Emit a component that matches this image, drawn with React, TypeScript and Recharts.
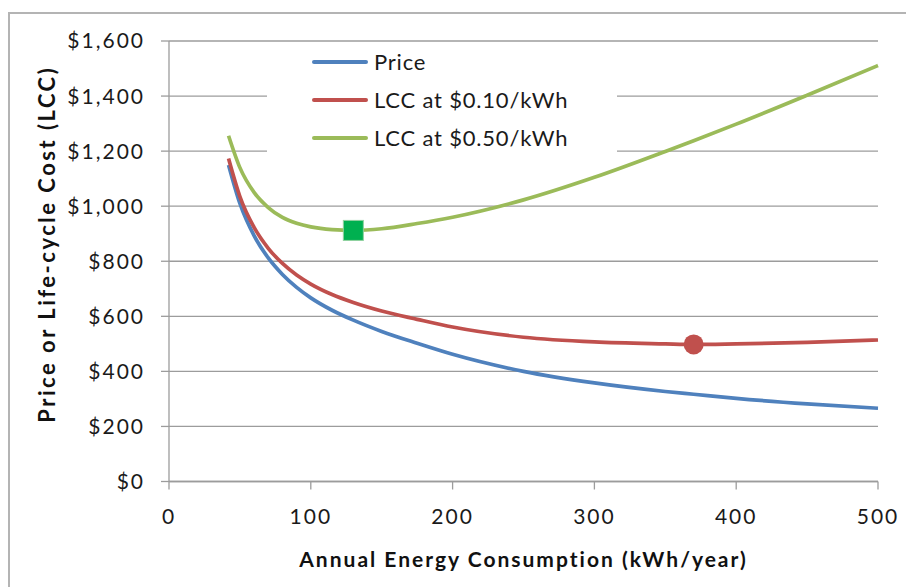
import React from 'react';
import { ComposedChart, Line, XAxis, YAxis, CartesianGrid, Legend, ReferenceDot } from 'recharts';

const consumption = [42, 50, 60, 70, 80, 90, 100, 115, 130, 150, 175, 200, 250, 300, 350, 370, 400, 450, 500];
const priceValues = [1150, 1010, 893, 812, 752, 705, 667, 622, 586, 545, 502, 462, 400, 358, 327, 317, 302, 282, 266];
const lcc10Values = [1173, 1035, 923, 847, 792, 750, 717, 679, 650, 619, 589, 561, 524, 507, 500, 498, 500, 505, 514];
const lcc50Values = [1256, 1140, 1050, 995, 959, 938, 925, 915, 912, 918, 937, 960, 1023, 1105, 1199, 1238, 1298, 1403, 1511];

const xTicks = [0, 100, 200, 300, 400, 500];
const yTicks = [0, 200, 400, 600, 800, 1000, 1200, 1400, 1600];

const minLcc10 = { x: 370, y: 498 };
const minLcc50 = { x: 130, y: 912 };

const seriesNames = ['Price', 'LCC at $0.10/kWh', 'LCC at $0.50/kWh'];

const data = consumption.map((x, i) => ({
  x,
  price: priceValues[i],
  lcc10: lcc10Values[i],
  lcc50: lcc50Values[i],
}));

const GRID = '#9c9c9c';
const FONT = 'Lato, "Open Sans", sans-serif';

const LegendBox = (props: any) => {
  const all = props.payload || [];
  const payload = seriesNames
    .map((n) => all.find((p: any) => p.value === n))
    .filter(Boolean);
  return (
    <div style={{ width: 350, height: 116, background: '#fff', position: 'relative', fontFamily: FONT }}>
      {payload.map((p: any, i: number) => (
        <div
          key={p.value}
          style={{ position: 'absolute', left: 45, top: 3 + i * 38, height: 30, display: 'flex', alignItems: 'center' }}
        >
          <span style={{ display: 'inline-block', width: 56, height: 4, borderRadius: 2, background: p.color, marginRight: 6 }} />
          <span style={{ fontSize: 22, color: '#1a1a1a', lineHeight: '30px', letterSpacing: 0.8, whiteSpace: 'nowrap' }}>{p.value}</span>
        </div>
      ))}
    </div>
  );
};

const YLabel = (props: any) => {
  const vb = props.viewBox || {};
  const cx = 46;
  const cy = vb.y + vb.height / 2 - 17;
  return (
    <text
      x={cx}
      y={cy}
      transform={`rotate(-90, ${cx}, ${cy})`}
      textAnchor="middle"
      dominantBaseline="central"
      style={{ fontFamily: FONT, fontWeight: 700, fontSize: 22, fill: '#111', letterSpacing: 2.5 }}
    >
      Price or Life-cycle Cost (LCC)
    </text>
  );
};

const XLabel = (props: any) => {
  const vb = props.viewBox || {};
  const cx = vb.x + vb.width / 2;
  return (
    <text
      x={cx}
      y={567}
      textAnchor="middle"
      style={{ fontFamily: FONT, fontWeight: 700, fontSize: 21, fill: '#111', letterSpacing: 2 }}
    >
      Annual Energy Consumption (kWh/year)
    </text>
  );
};

const SquareMarker = (props: any) => (
  <rect x={props.cx - 10} y={props.cy - 10} width={20} height={20} fill="#00B050" stroke="#8fd19e" strokeWidth={1} />
);

const CircleMarker = (props: any) => <circle cx={props.cx} cy={props.cy} r={10} fill="#C0504D" />;

const fmt = (v: number) => '$' + v.toLocaleString('en-US');

export default function App() {
  return (
    <>
      <div
        style={{
          position: 'absolute',
          left: 8,
          top: 12,
          width: 898,
          height: 575,
          boxSizing: 'border-box',
          borderTop: '2px solid #b4b4b4',
          borderLeft: '2px solid #b4b4b4',
        }}
      />
      <div style={{ position: 'absolute', left: 0, top: 0, width: 906, height: 587 }}>
        <ComposedChart width={906} height={587} data={data} margin={{ top: 41, right: 28, bottom: 75.5, left: 69 }}>
          <CartesianGrid vertical={false} stroke={GRID} strokeWidth={1.3} />
          <XAxis
            dataKey="x"
            type="number"
            domain={[0, 500]}
            ticks={xTicks}
            height={30}
            tickSize={8}
            tickMargin={20}
            axisLine={{ stroke: GRID, strokeWidth: 1.3 }}
            tickLine={{ stroke: GRID, strokeWidth: 1.3 }}
            tick={{ fontFamily: FONT, fontSize: 21, fill: '#1a1a1a', letterSpacing: 2 }}
            label={<XLabel />}
          />
          <YAxis
            type="number"
            domain={[0, 1600]}
            ticks={yTicks}
            width={100}
            tickSize={8}
            tickMargin={16}
            tickFormatter={fmt}
            axisLine={{ stroke: GRID, strokeWidth: 1.3 }}
            tickLine={{ stroke: GRID, strokeWidth: 1.3 }}
            tick={{ fontFamily: FONT, fontSize: 21, fill: '#1a1a1a', letterSpacing: 2 }}
            label={<YLabel />}
          />
          <Legend
            layout="vertical"
            align="center"
            verticalAlign="middle"
            content={<LegendBox />}
            wrapperStyle={{ left: 267, top: 44, width: 350, height: 116 }}
          />
          <Line type="monotone" dataKey="price" name={seriesNames[0]} stroke="#4F81BD" strokeWidth={3.7} dot={false} isAnimationActive={false} />
          <Line type="monotone" dataKey="lcc10" name={seriesNames[1]} stroke="#C0504D" strokeWidth={3.7} dot={false} isAnimationActive={false} />
          <Line type="monotone" dataKey="lcc50" name={seriesNames[2]} stroke="#9BBB59" strokeWidth={3.7} dot={false} isAnimationActive={false} />
          <ReferenceDot x={minLcc50.x} y={minLcc50.y} ifOverflow="visible" shape={<SquareMarker />} />
          <ReferenceDot x={minLcc10.x} y={minLcc10.y} ifOverflow="visible" shape={<CircleMarker />} />
        </ComposedChart>
      </div>
    </>
  );
}
